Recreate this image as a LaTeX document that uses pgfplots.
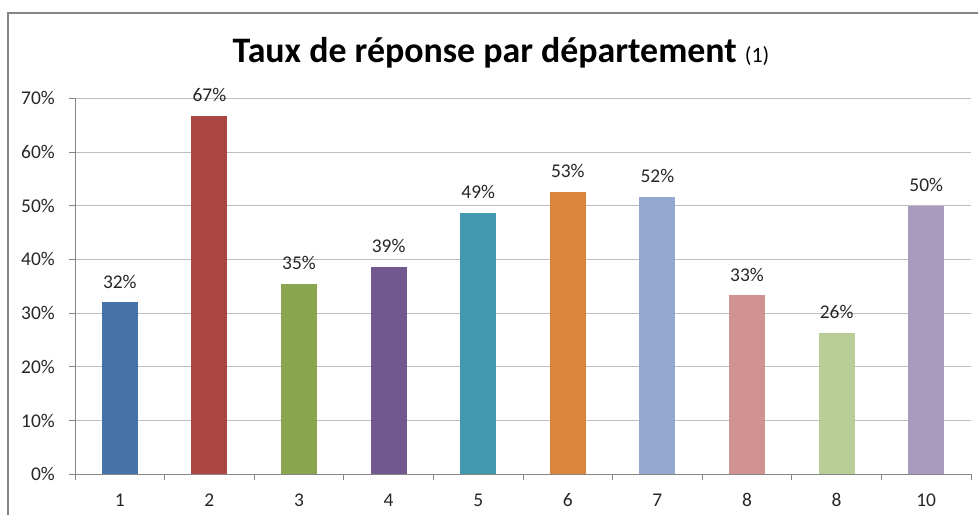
\documentclass[border=0pt]{standalone}
\usepackage{pgfplots}
\pgfplotsset{compat=1.18}
\usepackage{fontspec}
\setmainfont{Carlito}
\definecolor{c1}{HTML}{4572A7}
\definecolor{c2}{HTML}{AA4643}
\definecolor{c3}{HTML}{89A54E}
\definecolor{c4}{HTML}{71588F}
\definecolor{c5}{HTML}{4198AF}
\definecolor{c6}{HTML}{DB843D}
\definecolor{c7}{HTML}{93A9CF}
\definecolor{c8}{HTML}{D19392}
\definecolor{c9}{HTML}{B9CD96}
\definecolor{c10}{HTML}{A99BBD}
\definecolor{axgray}{HTML}{868686}
\definecolor{gridgray}{HTML}{BDBDBD}
\begin{document}
\begin{tikzpicture}
\useasboundingbox (0,0) rectangle (978bp,515bp);
\draw[axgray, line width=1.5bp] (8bp,-2bp) -- (8bp,502bp) -- (980bp,502bp);
\node[anchor=base, inner sep=0pt] at (501bp,452.3bp)
  {\fontsize{36}{42}\selectfont\bfseries Taux de réponse par département {\mdseries\fontsize{22}{26}\selectfont (1)}};
\begin{axis}[
  at={(75bp,40.7bp)}, anchor=south west,
  scale only axis, width=896bp, height=376bp,
  ybar, bar width=0.4, bar shift=0pt,
  xmin=0.5, xmax=10.5, ymin=0, ymax=70,
  enlargelimits=false,
  axis x line*=bottom, axis y line*=left,
  axis line style={axgray, -, line width=0.9bp},
  tick style={axgray, line width=0.9bp},
  tick align=outside, major tick length=6bp,
  ytick={0,10,...,70},
  yticklabel={\pgfmathprintnumber{\tick}\%},
  yticklabel style={anchor=east, inner sep=0pt, xshift=-14bp},
  ymajorgrids, grid style={gridgray, line width=0.9bp},
  xtick={0.5,1.5,...,10.5}, xticklabels={},
  extra x ticks={1,2,3,4,5,6,7,8,9,10},
  extra x tick labels={1,2,3,4,5,6,7,8,8,10},
  extra x tick style={major tick length=0pt, xticklabel style={anchor=base, inner sep=0pt, yshift=-32bp}},
  /pgf/number format/assume math mode=true,
  ticklabel style={font=\fontsize{19.5}{23}\selectfont, text=black!85},
  nodes near coords={\pgfmathprintnumber[fixed,precision=0]{\pgfplotspointmeta}\%},
  nodes near coords style={font=\fontsize{19.5}{23}\selectfont, text=black!85, anchor=south, inner sep=0pt, yshift=14bp},
  every axis plot/.append style={draw=none},
]
\addplot[fill=c1] coordinates {(1,32.0)};
\addplot[fill=c2] coordinates {(2,66.7)};
\addplot[fill=c3] coordinates {(3,35.4)};
\addplot[fill=c4] coordinates {(4,38.6)};
\addplot[fill=c5] coordinates {(5,48.7)};
\addplot[fill=c6] coordinates {(6,52.6)};
\addplot[fill=c7] coordinates {(7,51.6)};
\addplot[fill=c8] coordinates {(8,33.3)};
\addplot[fill=c9] coordinates {(9,26.3)};
\addplot[fill=c10] coordinates {(10,50.0)};
\end{axis}
\end{tikzpicture}
\end{document}
